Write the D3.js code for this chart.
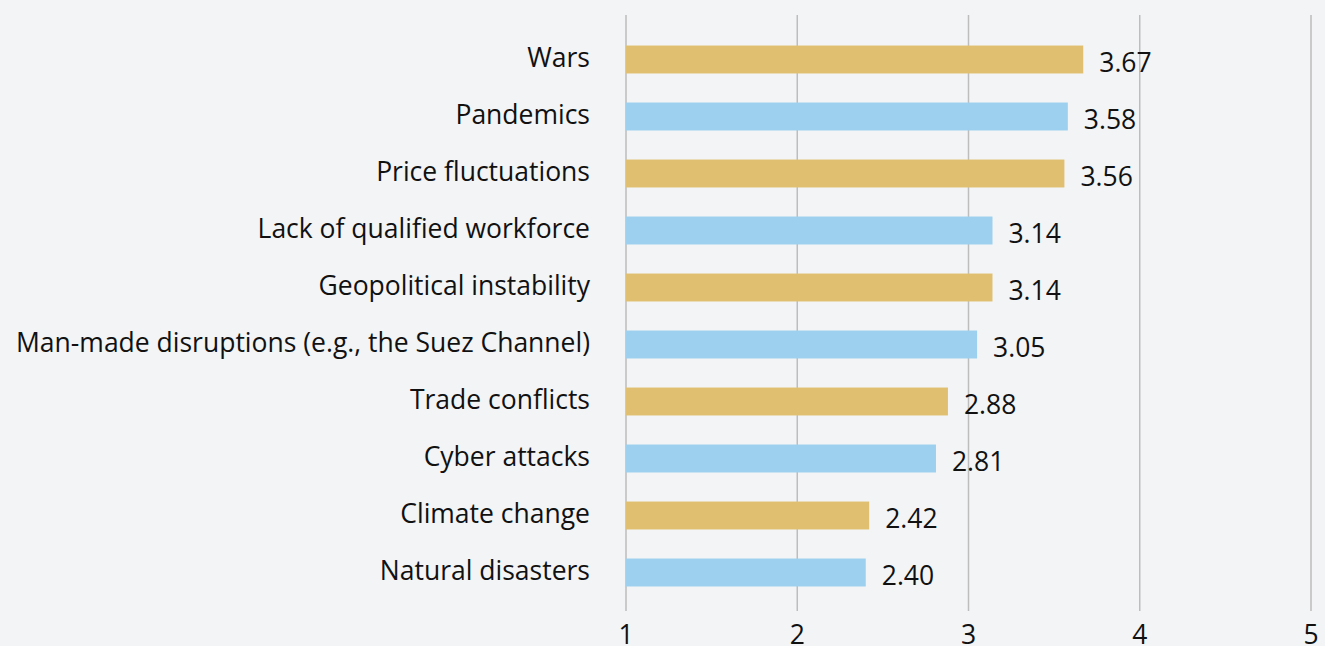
<!DOCTYPE html>
<html>
<head>
<meta charset="utf-8">
<script src="https://cdn.jsdelivr.net/npm/d3@7"></script>
<style>
  html, body { margin: 0; padding: 0; background: #f2f4f6; }
  #canvas { width: 1325px; height: 646px; overflow: hidden; }
  text { font-family: "Open Sans", Lato, sans-serif; fill: #111; }
</style>
</head>
<body>
<div id="canvas" class="canvas"></div>
<script>
// chart data
var categories = ['Wars', 'Pandemics', 'Price fluctuations', 'Lack of qualified workforce',
    'Geopolitical instability', 'Man-made disruptions (e.g., the Suez Channel)',
    'Trade conflicts', 'Cyber attacks', 'Climate change', 'Natural disasters'];
var values = [3.67, 3.58, 3.56, 3.14, 3.14, 3.05, 2.88, 2.81, 2.42, 2.40];
var tickValues = [1, 2, 3, 4, 5];

var colors = ['#e0c070', '#9dcfee'];

var W = 1325, H = 646;
var m = {t: 31, l: 626, r: 14, b: 35};
var fs = '26.5px';

var svg = d3.select('.canvas')
    .append('svg')
    .attr('width', W)
    .attr('height', H);

var x = d3.scaleLinear().domain([1, 5]).range([m.l, W - m.r]);
var y = d3.scaleBand().domain(categories)
    .range([m.t, m.t + 57 * categories.length])
    .paddingInner(0.51).paddingOuter(0.255);

// gridlines
svg.append('g').selectAll('line')
    .data(tickValues)
    .enter().append('line')
    .attr('x1', function(d){ return x(d); })
    .attr('x2', function(d){ return x(d); })
    .attr('y1', 15).attr('y2', 611)
    .style('stroke', '#bdbdbd')
    .style('stroke-width', '1.5px');

// bars
svg.append('g').selectAll('rect')
    .data(values)
    .enter().append('rect')
    .attr('x', x(1))
    .attr('y', function(d, i){ return y(categories[i]); })
    .attr('width', function(d){ return x(d) - x(1); })
    .attr('height', y.bandwidth())
    .style('fill', function(d, i){ return colors[i % 2]; });

// category labels
svg.append('g').selectAll('text')
    .data(categories)
    .enter().append('text')
    .attr('x', 590)
    .attr('y', function(d){ return y(d) + y.bandwidth() / 2 - 3; })
    .attr('text-anchor', 'end')
    .attr('dominant-baseline', 'central')
    .style('font-size', fs)
    .text(function(d){ return d; });

// value labels
svg.append('g').selectAll('text')
    .data(values)
    .enter().append('text')
    .attr('x', function(d){ return x(d) + 16; })
    .attr('y', function(d, i){ return y(categories[i]) + y.bandwidth() / 2 + 2; })
    .attr('dominant-baseline', 'central')
    .style('font-size', fs)
    .text(function(d){ return d.toFixed(2); });

// x tick labels
svg.append('g').selectAll('text')
    .data(tickValues)
    .enter().append('text')
    .attr('x', function(d){ return x(d); })
    .attr('y', 644)
    .attr('text-anchor', 'middle')
    .style('font-size', fs)
    .text(function(d){ return d; });
</script>
</body>
</html>
